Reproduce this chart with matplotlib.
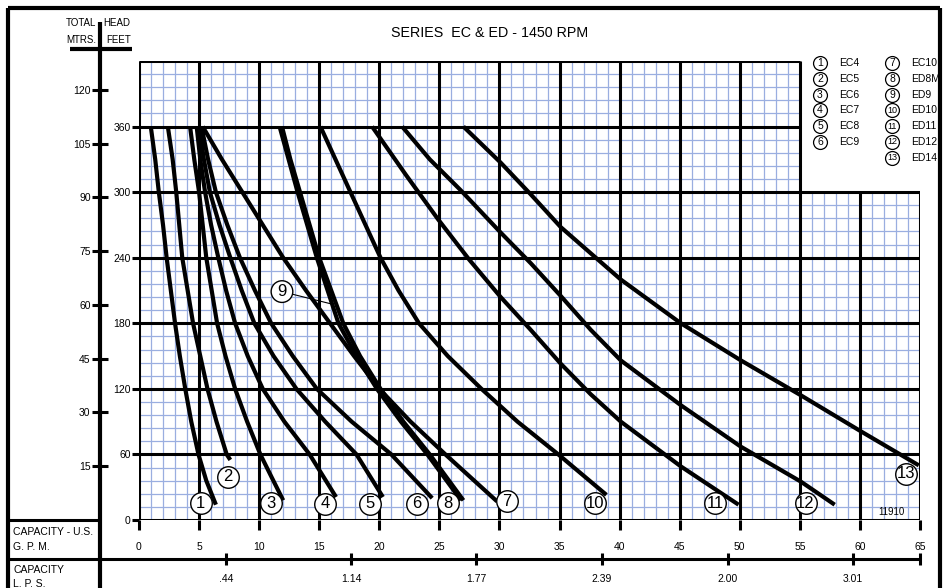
import matplotlib.pyplot as plt
from matplotlib.lines import Line2D
from matplotlib.transforms import offset_copy

plt.rcParams['font.family'] = ['Liberation Sans', 'DejaVu Sans']

# pump curves: capacity (US GPM) against total head (feet)
ec4_gpm = [0.98, 1.35, 1.65, 2.0, 2.3, 2.65, 3.0, 3.4, 3.85, 4.35, 4.95, 5.6, 6.4]
ec4_ft = [360, 330, 300, 270, 240, 210, 180, 150, 120, 90, 60, 36, 14]
ec5_gpm = [2.4, 2.8, 3.1, 3.35, 3.6, 4.05, 4.5, 5.1, 5.7, 6.45, 7.3, 7.6]
ec5_ft = [360, 330, 300, 270, 240, 210, 180, 150, 120, 90, 60, 55]
ec6_gpm = [4.25, 4.6, 5.0, 5.3, 5.6, 6.05, 6.5, 7.2, 8.0, 9.0, 10.1, 11.0, 12.0]
ec6_ft = [360, 330, 300, 270, 240, 210, 180, 150, 120, 90, 60, 40, 18]
ec7_gpm = [4.8, 5.1, 5.5, 6.0, 6.6, 7.25, 8.0, 9.05, 10.3, 12.1, 14.2, 16.4]
ec7_ft = [360, 330, 300, 270, 240, 210, 180, 150, 120, 90, 60, 21]
ec8_gpm = [5.0, 5.4, 5.9, 6.7, 7.6, 8.55, 9.6, 11.2, 13.1, 15.5, 18.1, 20.3]
ec8_ft = [360, 330, 300, 270, 240, 210, 180, 150, 120, 90, 60, 21]
ec9_gpm = [5.2, 5.75, 6.4, 7.35, 8.4, 9.65, 11.0, 12.8, 14.8, 17.7, 21.0, 24.4]
ec9_ft = [360, 330, 300, 270, 240, 210, 180, 150, 120, 90, 60, 20]
ec10_gpm = [5.3, 6.9, 8.6, 10.3, 12.0, 13.9, 15.9, 17.9, 20.0, 22.6, 25.5, 29.8]
ec10_ft = [360, 330, 300, 270, 240, 210, 180, 150, 120, 90, 60, 17]
ed8m_gpm = [11.9, 12.6, 13.4, 14.2, 15.0, 16.0, 17.0, 18.4, 20.1, 22.0, 24.2, 27.0]
ed8m_ft = [360, 330, 300, 270, 240, 210, 180, 150, 120, 90, 60, 18]
ed9_gpm = [11.7, 12.45, 13.2, 14.0, 14.8, 15.7, 16.6, 18.1, 19.8, 21.8, 24.0, 26.8]
ed9_ft = [360, 330, 300, 270, 240, 210, 180, 150, 120, 90, 60, 18]
ed10_gpm = [15.1, 16.35, 17.6, 18.85, 20.1, 21.6, 23.3, 25.7, 28.5, 31.5, 34.9, 38.9]
ed10_ft = [360, 330, 300, 270, 240, 210, 180, 150, 120, 90, 60, 23]
ed11_gpm = [19.4, 22.2, 24.9, 27.5, 30.1, 32.6, 35.1, 37.6, 40.1, 45.1, 49.9]
ed11_ft = [360, 316, 275, 238, 204, 174, 143, 115, 90, 49, 14]
ed12_gpm = [21.9, 24.2, 26.75, 30.1, 32.6, 35.1, 37.6, 40.1, 45.1, 50.1, 55.1, 57.9]
ed12_ft = [360, 330, 302, 263, 235, 205, 174, 146, 105, 67, 35, 14]
ed14_gpm = [27.0, 30.1, 32.6, 35.1, 40.1, 45.1, 50.1, 55.1, 60.1, 64.9]
ed14_ft = [360, 327, 298, 268, 220, 180, 146, 114, 81, 50]

curve_nums = ['1', '2', '3', '4', '5', '6', '7', '8', '9', '10', '11', '12', '13']
curve_names = ['EC4', 'EC5', 'EC6', 'EC7', 'EC8', 'EC9', 'EC10',
               'ED8M', 'ED9', 'ED10', 'ED11', 'ED12', 'ED14']
curves = [(ec4_gpm, ec4_ft), (ec5_gpm, ec5_ft), (ec6_gpm, ec6_ft), (ec7_gpm, ec7_ft),
          (ec8_gpm, ec8_ft), (ec9_gpm, ec9_ft), (ec10_gpm, ec10_ft), (ed8m_gpm, ed8m_ft),
          (ed9_gpm, ed9_ft), (ed10_gpm, ed10_ft), (ed11_gpm, ed11_ft),
          (ed12_gpm, ed12_ft), (ed14_gpm, ed14_ft)]
# where the number sits relative to the end of its curve (points)
label_off = [(-11, 1), (-2, -12), (-9, -2), (-8, -5), (-9, -5), (-11, -4), (7, 0),
             (-11, -2), None, (-8, -6), (-17, 1), (-21, 1), (-9, -6)]

gpm_ticks = list(range(0, 66, 5))
feet_ticks = [0, 60, 120, 180, 240, 300, 360]
mtr_ticks = [15, 30, 45, 60, 75, 90, 105, 120]
lps_pos = [7.25, 17.67, 28.08, 38.5, 49.0, 59.4]
lps_labels = ['.44', '1.14', '1.77', '2.39', '2.00', '3.01']

W, H = 947, 588
fig = plt.figure(figsize=(W / 100, H / 100), dpi=100)


def fx(px):
    return px / W


def fy(py):
    return 1 - py / H


def fline(x0, y0, x1, y1, lw=2.2):
    fig.add_artist(Line2D([fx(x0), fx(x1)], [fy(y0), fy(y1)], color='black',
                          lw=lw, solid_capstyle='butt'))


ax = fig.add_axes([fx(139), fy(520), (920 - 139) / W, (520 - 61) / H])
ax.set_xlim(0, 65)
ax.set_ylim(0, 420)
for s in ax.spines.values():
    s.set_visible(False)

blue = '#9aaee0'
for g in range(66):
    if g % 5:
        ax.vlines(g, 0, 420 if g <= 55 else 300, color=blue, lw=0.9, zorder=1)
for h in range(0, 421, 12):
    if h % 60:
        ax.hlines(h, 0, 65 if h <= 300 else 55, color=blue, lw=0.9, zorder=1)
for g in range(0, 66, 5):
    ax.vlines(g, 0, 420 if g <= 55 else 300, color='black', lw=2.2, zorder=2)
for h in range(0, 421, 60):
    ax.hlines(h, 0, 65 if h <= 300 else 55, color='black', lw=2.2, zorder=2)

ax.set_xticks(gpm_ticks)
ax.set_xticklabels([str(v) for v in gpm_ticks])
ax.set_yticks(feet_ticks)
ax.set_yticklabels([str(v) for v in feet_ticks])
ax.tick_params(axis='x', direction='out', length=7, width=2.2, pad=9, labelsize=7.5)
ax.tick_params(axis='y', direction='out', length=5, width=2.2, pad=1, labelsize=7.5)

for (q, hd), num, off in zip(curves, curve_nums, label_off):
    ax.plot(q, hd, color='black', lw=3, solid_capstyle='butt', solid_joinstyle='round',
            zorder=3)
    if off is None:
        continue
    tr = offset_copy(ax.transData, fig=fig, x=off[0], y=off[1], units='points')
    ax.plot(q[-1], hd[-1], 'o', ms=15.5, mfc='white', mec='black', mew=1,
            transform=tr, zorder=4, clip_on=False)
    ax.text(q[-1], hd[-1], num, transform=tr, ha='center', va='center',
            fontsize=12, zorder=5, clip_on=False)

# ED9 is marked with a leader
ax.annotate('9', xy=(15.9, 198), xytext=(11.9, 209), fontsize=12, ha='center', va='center',
            bbox=dict(boxstyle='circle,pad=0.2', fc='white', ec='black', lw=1),
            arrowprops=dict(arrowstyle='-', color='black', lw=0.8, shrinkA=0, shrinkB=0),
            zorder=5)
ax.text(62.6, 7, '11910', fontsize=7, ha='center', va='center', zorder=5)

# metres scale
axm = fig.add_axes([fx(100), fy(520), 0.0001, (520 - 61) / H])
axm.set_ylim(0, 420 / 3.28084)
axm.set_xticks([])
axm.set_yticks(mtr_ticks)
axm.set_yticklabels([str(v) for v in mtr_ticks])
axm.tick_params(axis='y', direction='inout', length=11.5, width=2.2, pad=1, labelsize=7.5)
for s in axm.spines.values():
    s.set_visible(False)

# litres per second scale
axl = fig.add_axes([fx(139), fy(559), (920 - 139) / W, 0.0001])
axl.set_xlim(0, 65)
axl.set_yticks([])
axl.set_xticks(lps_pos + [65])
axl.set_xticklabels(lps_labels + [''])
axl.tick_params(axis='x', direction='inout', length=9, width=2.2, pad=6, labelsize=7.5)
for s in axl.spines.values():
    s.set_visible(False)

# frame and table lines
fline(8, 8, 940, 8, 3)
fline(8, 8, 8, 592, 3)
fline(940, 8, 940, 592, 3)
fline(100, 22, 100, 592, 3)
fline(70, 49, 132, 49, 3)
fline(8, 520, 100, 520, 2.2)
fline(8, 559, 920, 559, 2.2)

fig.text(fx(490), fy(33), 'SERIES  EC & ED - 1450 RPM', fontsize=10.3, ha='center', va='center')
fig.text(fx(96), fy(23), 'TOTAL', fontsize=7, ha='right', va='center')
fig.text(fx(96), fy(40), 'MTRS.', fontsize=7, ha='right', va='center')
fig.text(fx(103), fy(23), 'HEAD', fontsize=7, ha='left', va='center')
fig.text(fx(106), fy(40), 'FEET', fontsize=7, ha='left', va='center')
fig.text(fx(13), fy(532), 'CAPACITY - U.S.', fontsize=7.5, ha='left', va='center')
fig.text(fx(13), fy(547), 'G. P. M.', fontsize=7.5, ha='left', va='center')
fig.text(fx(13), fy(570), 'CAPACITY', fontsize=7.5, ha='left', va='center')
fig.text(fx(13), fy(584), 'L. P. S.', fontsize=7.5, ha='left', va='center')

# key
for i, (num, name) in enumerate(zip(curve_nums, curve_names)):
    col, row = (0, i) if i < 6 else (1, i - 6)
    cx = 820 if col == 0 else 892
    cy = 63 + row * 15.8
    fig.add_artist(Line2D([fx(cx)], [fy(cy)], marker='o', ms=10, mfc='white',
                          mec='black', mew=0.9))
    fig.text(fx(cx), fy(cy), num, fontsize=7.5 if len(num) == 1 else 6.5,
             ha='center', va='center')
    fig.text(fx(cx + 19), fy(cy), name, fontsize=7.5, ha='left', va='center')

fig.savefig('out.png', dpi=100)
